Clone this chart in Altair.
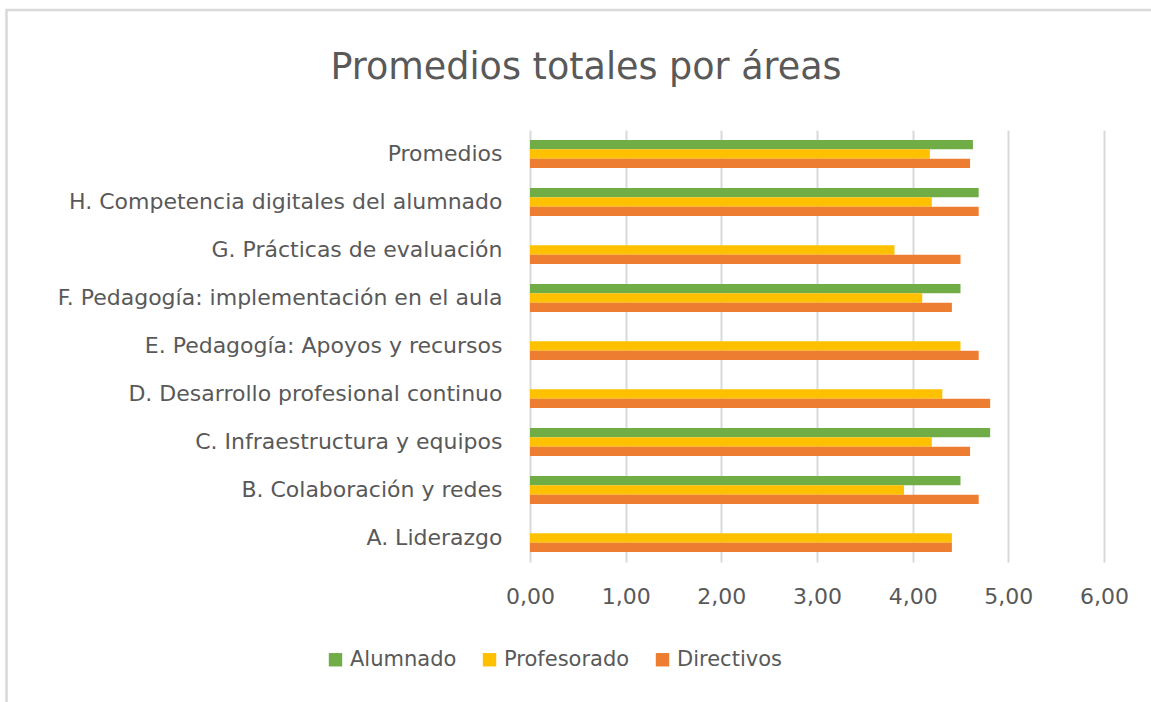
import altair as alt
import pandas as pd

categories = [
    "Promedios",
    "H. Competencia digitales del alumnado",
    "G. Prácticas de evaluación",
    "F. Pedagogía: implementación en el aula",
    "E. Pedagogía: Apoyos y recursos",
    "D. Desarrollo profesional continuo",
    "C. Infraestructura y equipos",
    "B. Colaboración y redes",
    "A. Liderazgo",
]
series = ["Alumnado", "Profesorado", "Directivos"]
colors = ["#70AD47", "#FFC000", "#ED7D31"]

alumnado = [4.63, 4.69, None, 4.50, None, None, 4.81, 4.50, None]
profesorado = [4.18, 4.20, 3.81, 4.10, 4.50, 4.31, 4.20, 3.91, 4.41]
directivos = [4.60, 4.69, 4.50, 4.41, 4.69, 4.81, 4.60, 4.69, 4.41]

rows = []
for name, vals in zip(series, [alumnado, profesorado, directivos]):
    for c, v in zip(categories, vals):
        if v is not None:
            rows.append({"area": c, "serie": name, "valor": v})
df = pd.DataFrame(rows)

FONT = "DejaVu Sans"
TXT = "#595959"

bars = alt.Chart(df).mark_bar().encode(
    y=alt.Y("area:N", sort=categories,
            scale=alt.Scale(paddingInner=0.42, paddingOuter=0.21),
            axis=alt.Axis(title=None, ticks=False, domain=False, labelPadding=28,
                          labelFontSize=22, labelColor=TXT, labelFont=FONT,
                          labelLimit=600)),
    yOffset=alt.YOffset("serie:N", sort=series, scale=alt.Scale(domain=series)),
    x=alt.X("valor:Q", scale=alt.Scale(domain=[0, 6], nice=False),
            axis=alt.Axis(title=None, values=[0, 1, 2, 3, 4, 5, 6],
                          labelExpr="replace(format(datum.value, '.2f'), '.', ',')",
                          ticks=False, domain=False, labelPadding=24, labelFlush=False,
                          labelFontSize=22, labelColor=TXT, labelFont=FONT,
                          grid=True, gridColor="#d9d9d9", gridWidth=2)),
    color=alt.Color("serie:N", sort=series,
                    scale=alt.Scale(domain=series, range=colors),
                    legend=alt.Legend(title=None, orient="none", direction="horizontal",
                                      legendX=-205, legendY=519,
                                      symbolType="square", symbolSize=180,
                                      symbolStrokeWidth=0,
                                      labelFontSize=21, labelColor=TXT,
                                      labelFont=FONT, columnPadding=22,
                                      labelOffset=4)),
)

frame_df = pd.DataFrame({"k": [0]})
frame_top = alt.Chart(frame_df).mark_rule(color="#d9d9d9", strokeWidth=2.5).encode(
    x=alt.value(-524), x2=alt.value(640), y=alt.value(-120)
)
frame_left = alt.Chart(frame_df).mark_rule(color="#d9d9d9", strokeWidth=2.5).encode(
    x=alt.value(-523.5), y=alt.value(-121), y2=alt.value(600)
)

chart = alt.layer(frame_top, frame_left, bars).properties(
    width=574,
    height=432,
    title=alt.TitleParams("Promedios totales por áreas", fontSize=36.5, font=FONT,
                          fontWeight="normal", color=TXT, anchor="middle",
                          dx=-231, offset=-79),
    autosize=alt.AutoSizeParams(type="none"),
    padding={"left": 530, "top": 130, "right": 47, "bottom": 140},
).configure_view(stroke=None)

chart.save("out.html", embed_options={"renderer": "svg", "actions": False})
